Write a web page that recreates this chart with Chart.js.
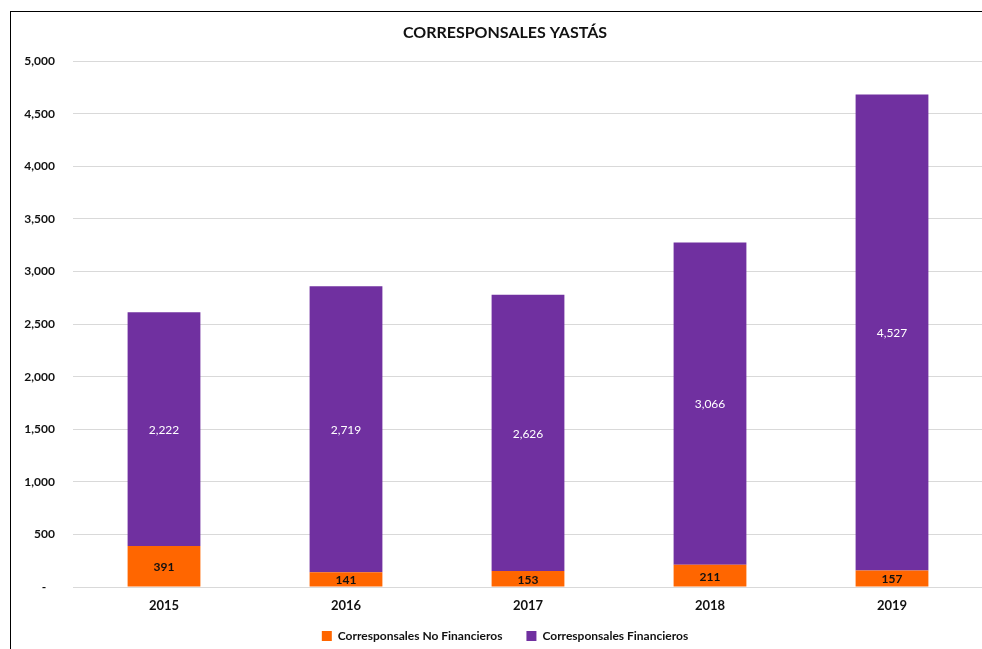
<!DOCTYPE html>
<html>
<head>
<meta charset="utf-8">
<script src="https://cdn.jsdelivr.net/npm/chart.js@4.4.1/dist/chart.umd.min.js"></script>
<style>
  html, body { margin: 0; padding: 0; background: #fff; overflow: hidden; }
  #frame { position: absolute; left: 10px; top: 11px; width: 1000px; height: 700px; border: 1px solid #000; }
  #wrap { position: absolute; left: 0; top: 0; width: 1010px; height: 649px; }
</style>
</head>
<body>
<div id="frame"></div>
<div id="wrap"><canvas id="chart"></canvas></div>
<script>
// ---- data ----
const YEARS = ["2015", "2016", "2017", "2018", "2019"];
const NO_FINANCIEROS = [391, 141, 153, 211, 157];
const FINANCIEROS = [2222, 2719, 2626, 3066, 4527];
const Y_MAX = 5000;
const Y_STEP = 500;

const FONT = "Lato, 'Open Sans', sans-serif";
const fmt = v => v.toLocaleString("en-US");

// labels drawn in the middle of each bar segment
const segmentLabels = {
  id: "segmentLabels",
  afterDatasetsDraw(chart) {
    const ctx = chart.ctx;
    ctx.save();
    ctx.textAlign = "center";
    ctx.textBaseline = "middle";
    chart.data.datasets.forEach((ds, i) => {
      const meta = chart.getDatasetMeta(i);
      ctx.font = ds._labelFont;
      ctx.fillStyle = ds._labelColor;
      meta.data.forEach((bar, j) => {
        const y = (bar.y + bar.base) / 2;
        ctx.fillText(fmt(ds.data[j]), bar.x, y + 1);
      });
    });
    ctx.restore();
  }
};

// short legend box; the wide label padding only spreads items sideways
const legendBox = {
  id: "legendBox",
  beforeInit(chart) {
    const lg = chart.legend;
    const fit = lg.fit;
    lg.fit = function () {
      fit.call(this);
      this.height = 25;
    };
    const draw = lg.draw;
    lg.draw = function () {
      const top = this.top;
      this.top = top - 18;
      draw.call(this);
      this.top = top;
    };
  }
};

new Chart(document.getElementById("chart"), {
  type: "bar",
  data: {
    labels: YEARS,
    datasets: [
      {
        label: "Corresponsales No Financieros",
        data: NO_FINANCIEROS,
        backgroundColor: "#FF6600",
        _labelFont: "bold 12px " + FONT,
        _labelColor: "#111"
      },
      {
        label: "Corresponsales Financieros",
        data: FINANCIEROS,
        backgroundColor: "#7030A0",
        _labelFont: "12px " + FONT,
        _labelColor: "#fff"
      }
    ]
  },
  options: {
    responsive: true,
    maintainAspectRatio: false,
    animation: false,
    layout: { padding: { left: 0, right: 0, top: 0, bottom: 0 } },
    datasets: {
      bar: { categoryPercentage: 1, barPercentage: 0.4, borderWidth: 0 }
    },
    scales: {
      x: {
        stacked: true,
        grid: { display: false, drawTicks: false },
        border: { display: true, color: "#D9D9D9", width: 1 },
        ticks: { color: "#111", padding: 11, font: { family: FONT, size: 13, weight: "bold" } },
        afterFit: s => { s.height = 37; }
      },
      y: {
        stacked: true,
        min: 0,
        max: Y_MAX,
        grid: { color: "#D9D9D9", drawTicks: false },
        border: { display: false },
        ticks: {
          stepSize: Y_STEP,
          padding: 18,
          color: "#111",
          font: { family: FONT, size: 12, weight: "bold" },
          callback: v => (v === 0 ? "-   " : fmt(v))
        },
        afterFit: s => { s.width = 73; }
      },
      // empty right axis: keeps title/legend centred on the full frame
      y2: {
        position: "right",
        display: true,
        grid: { display: false, drawTicks: false },
        border: { display: false },
        ticks: { display: false },
        afterFit: s => { s.width = 27; }
      }
    },
    plugins: {
      title: {
        display: true,
        text: "CORRESPONSALES YASTÁS",
        color: "#111",
        font: { family: FONT, size: 16, weight: "bold" },
        padding: { top: 23, bottom: 19 }
      },
      legend: {
        position: "bottom",
        labels: {
          boxWidth: 10,
          boxHeight: 10,
          padding: 24,
          color: "#111",
          font: { family: FONT, size: 12, weight: "bold" }
        }
      },
      tooltip: { enabled: false }
    }
  },
  plugins: [segmentLabels, legendBox]
});
</script>
</body>
</html>
